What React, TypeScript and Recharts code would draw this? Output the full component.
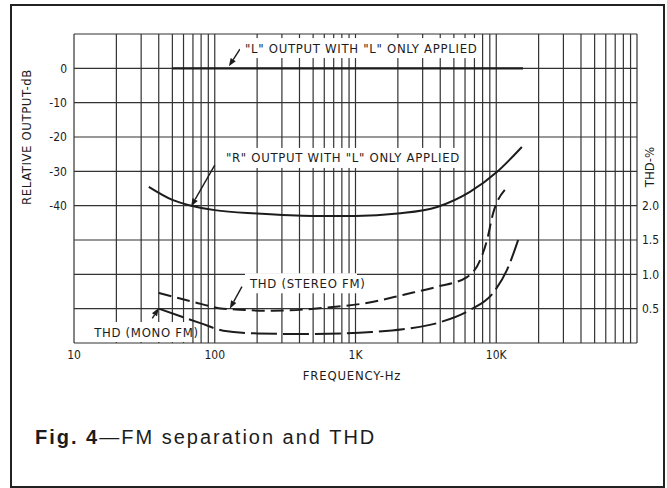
import React from 'react';
import {
  LineChart,
  Line,
  XAxis,
  YAxis,
  CartesianGrid,
  ReferenceLine,
  ReferenceDot,
} from 'recharts';

// log grid positions (Hz) and which of them get a label
const freqTicks = [
  10, 20, 30, 40, 50, 60, 70, 80, 90,
  100, 200, 300, 400, 500, 600, 700, 800, 900,
  1000, 2000, 3000, 4000, 5000, 6000, 7000, 8000, 9000,
  10000, 20000, 30000, 40000, 50000, 60000, 70000, 80000, 90000, 100000,
];
const freqLabels: Record<number, string> = { 10: '10', 100: '100', 1000: '1K', 10000: '10K' };

const dbTicks = [10, 0, -10, -20, -30, -40, -50, -60, -70, -80];
const dbLabelled = [0, -10, -20, -30, -40];
const thdTicks = [0.5, 1.0, 1.5, 2.0];

// "L" output with "L" only applied (dB)
const lOutFreq = [50, 100, 1000, 10000, 15500];
const lOutDb = [0, 0, 0, 0, 0];

// "R" output with "L" only applied (dB)
const rOutFreq = [34, 50, 68, 100, 200, 500, 1000, 2000, 3800, 6500, 10100, 15200];
const rOutDb = [-34.5, -38.3, -40, -41.3, -42.3, -43, -43, -42.3, -40.4, -36, -30.2, -22.9];

// THD, stereo FM (%)
const stereoFreq = [40, 70, 115, 260, 590, 1340, 2170, 3800, 6200, 7700, 8600, 9500, 11500];
const stereoThd = [0.73, 0.6, 0.5, 0.47, 0.51, 0.6, 0.7, 0.82, 0.96, 1.21, 1.5, 1.89, 2.23];

// THD, mono FM (%)
const monoFreq = [40, 79, 115, 200, 450, 1300, 2170, 3800, 6500, 9500, 11900, 14300];
const monoThd = [0.5, 0.29, 0.18, 0.14, 0.13, 0.16, 0.2, 0.29, 0.48, 0.73, 1.06, 1.5];

const zip = (f: number[], v: number[]) => f.map((x, i) => ({ f: x, v: v[i] }));

const INK = '#1c1c1c';
const FONT = "'Liberation Sans Narrow', 'DejaVu Sans Condensed', 'Roboto', sans-serif";

function Arrow(props: any) {
  const { x1, y1, x2, y2 } = props;
  const a = Math.atan2(y2 - y1, x2 - x1);
  const len = 8;
  const w = 3;
  const bx = x2 - len * Math.cos(a);
  const by = y2 - len * Math.sin(a);
  const px = -Math.sin(a) * w;
  const py = Math.cos(a) * w;
  return (
    <g>
      <line x1={x1} y1={y1} x2={bx} y2={by} stroke={INK} strokeWidth={1.4} />
      <polygon points={`${x2},${y2} ${bx + px},${by + py} ${bx - px},${by - py}`} fill={INK} />
    </g>
  );
}

function note(text: string, width: number) {
  return (props: any) => {
    const { cx, cy } = props;
    return (
      <g>
        <rect x={cx - 5} y={cy - 10} width={width} height={20} fill="#fff" />
        <text
          x={cx}
          y={cy}
          dominantBaseline="central"
          fontFamily={FONT}
          fontSize={13}
          letterSpacing={0.7}
          fill={INK}
        >
          {text}
        </text>
      </g>
    );
  };
}

export default function App() {
  return (
    <div style={{ position: 'absolute', left: 0, top: 0, width: 667, height: 488, background: '#fff', overflow: 'hidden' }}>
      <div
        style={{
          position: 'absolute',
          left: 10,
          top: 4,
          width: 655,
          height: 484,
          border: '2px solid #222',
          boxSizing: 'border-box',
        }}
      />
      <div style={{ position: 'absolute', left: 0, top: 0 }}>
        <LineChart width={667} height={400} margin={{ top: 34, right: 0, left: 0, bottom: 27 }}>
          <CartesianGrid
            yAxisId="db"
            stroke="#333"
            strokeWidth={1.2}
            strokeDasharray=""
          />
          <XAxis
            dataKey="f"
            type="number"
            scale="log"
            domain={[10, 100000]}
            ticks={freqTicks}
            interval={0}
            allowDataOverflow
            axisLine={false}
            tickLine={false}
            tickSize={0}
            tickMargin={7}
            height={30}
            tick={{ fontFamily: FONT, fontSize: 12, fill: INK }}
            tickFormatter={(v: number) => freqLabels[v] ?? ''}
          />
          <YAxis
            yAxisId="db"
            type="number"
            domain={[-80, 10]}
            ticks={dbTicks}
            interval={0}
            width={74}
            axisLine={false}
            tickLine={false}
            tickSize={0}
            tickMargin={7}
            tick={{ fontFamily: FONT, fontSize: 12, fill: INK }}
            tickFormatter={(v: number) => (dbLabelled.includes(v) ? String(v) : '')}
          />
          <YAxis
            yAxisId="thd"
            orientation="right"
            type="number"
            domain={[0, 4.5]}
            ticks={thdTicks}
            interval={0}
            width={30}
            axisLine={false}
            tickLine={false}
            tickSize={0}
            tickMargin={5}
            tick={{ fontFamily: FONT, fontSize: 12, fill: INK }}
            tickFormatter={(v: number) => v.toFixed(1)}
          />

          <Line
            yAxisId="db"
            data={zip(lOutFreq, lOutDb)}
            dataKey="v"
            stroke={INK}
            strokeWidth={2.4}
            dot={false}
            isAnimationActive={false}
          />
          <Line
            yAxisId="db"
            type="monotone"
            data={zip(rOutFreq, rOutDb)}
            dataKey="v"
            stroke={INK}
            strokeWidth={2}
            dot={false}
            isAnimationActive={false}
          />
          <Line
            yAxisId="thd"
            type="monotone"
            data={zip(stereoFreq, stereoThd)}
            dataKey="v"
            stroke={INK}
            strokeWidth={2}
            strokeDasharray="13 6"
            dot={false}
            isAnimationActive={false}
          />
          <Line
            yAxisId="thd"
            type="monotone"
            data={zip(monoFreq, monoThd)}
            dataKey="v"
            stroke={INK}
            strokeWidth={2}
            strokeDasharray="26 6"
            dot={false}
            isAnimationActive={false}
          />

          <ReferenceDot yAxisId="db" x={164} y={5.9} r={0} shape={note('"L" OUTPUT WITH "L" ONLY APPLIED', 242)} />
          <ReferenceDot yAxisId="db" x={120} y={-26.1} r={0} shape={note('"R" OUTPUT WITH "L" ONLY APPLIED', 240)} />
          <ReferenceDot yAxisId="thd" x={178} y={0.87} r={0} shape={note('THD (STEREO FM)', 112)} />
          <ReferenceDot yAxisId="thd" x={13.9} y={0.16} r={0} shape={note('THD (MONO FM)', 100)} />

          <ReferenceLine yAxisId="db" segment={[{ x: 151, y: 5.6 }, { x: 126, y: 0.6 }]} shape={Arrow} />
          <ReferenceLine yAxisId="db" segment={[{ x: 100, y: -28.2 }, { x: 68, y: -40.2 }]} shape={Arrow} />
          <ReferenceLine yAxisId="thd" segment={[{ x: 156, y: 0.82 }, { x: 128, y: 0.5 }]} shape={Arrow} />
          <ReferenceLine yAxisId="thd" segment={[{ x: 36, y: 0.36 }, { x: 40, y: 0.51 }]} shape={Arrow} />
        </LineChart>
      </div>

      <div
        style={{
          position: 'absolute',
          left: 26,
          top: 137,
          transform: 'translate(-50%, -50%) rotate(-90deg)',
          whiteSpace: 'nowrap',
          fontFamily: FONT,
          fontSize: 13,
          letterSpacing: 0.6,
          color: INK,
        }}
      >
        RELATIVE OUTPUT-dB
      </div>
      <div
        style={{
          position: 'absolute',
          left: 649,
          top: 167,
          transform: 'translate(-50%, -50%) rotate(-90deg)',
          whiteSpace: 'nowrap',
          fontFamily: FONT,
          fontSize: 13,
          color: INK,
        }}
      >
        THD-%
      </div>
      <div
        style={{
          position: 'absolute',
          left: 352,
          top: 375,
          transform: 'translate(-50%, -50%)',
          whiteSpace: 'nowrap',
          fontFamily: FONT,
          fontSize: 13,
          letterSpacing: 0.8,
          color: INK,
        }}
      >
        FREQUENCY-Hz
      </div>
      <div
        style={{
          position: 'absolute',
          left: 35,
          top: 426,
          whiteSpace: 'nowrap',
          fontFamily: "'Liberation Sans', Arial, sans-serif",
          fontSize: 20,
          letterSpacing: 2,
          color: INK,
        }}
      >
        <b>Fig. 4</b>—FM separation and THD
      </div>
    </div>
  );
}
